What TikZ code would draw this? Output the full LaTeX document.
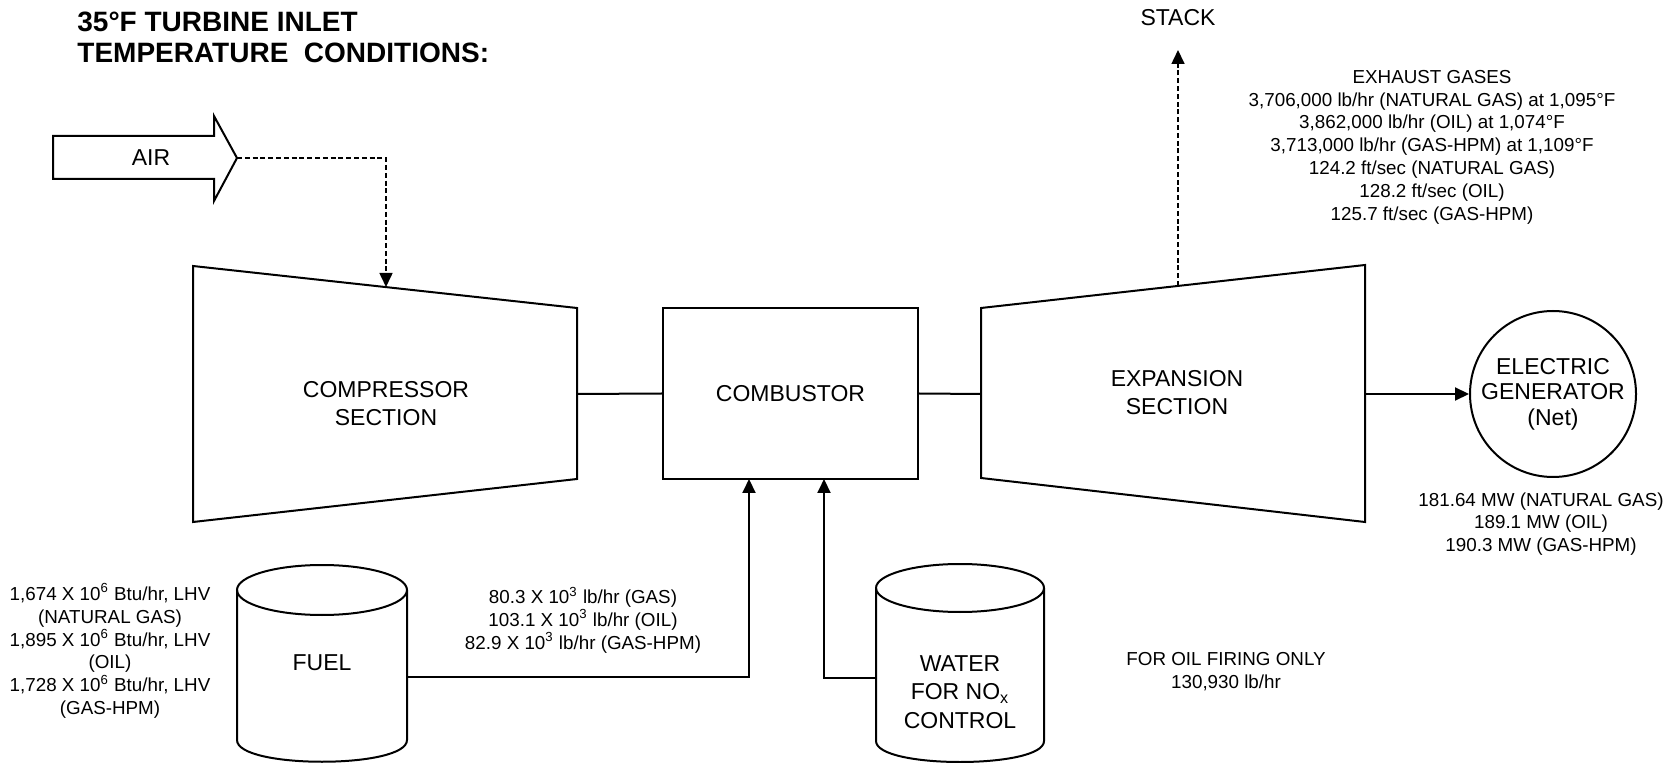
\documentclass[tikz,border=0pt]{standalone}
\usepackage{fontspec}
\setmainfont{Liberation Sans}
\usetikzlibrary{arrows.meta,positioning,calc}

\tikzset{
    part/.style={line width=1pt},
    flow/.style={line width=1pt, -{Triangle[length=7pt,width=6.5pt]}},
    dashflow/.style={flow, line width=0.8pt, dash pattern=on 2.5pt off 1.4pt},
    heading/.style={font=\fontsize{14}{15}\selectfont\bfseries, anchor=base west, inner sep=0pt},
    label/.style={font=\fontsize{11.5}{14}\selectfont, align=center},
    note/.style={font=\fontsize{9.4}{11.4}\selectfont, align=center}
}

\begin{document}
\begin{tikzpicture}[x=0.5pt,y=-0.5pt]
    \useasboundingbox (0,0) rectangle (1668,763);

    % Title
    \node[heading] (title1) at (77,32) {35°F TURBINE INLET};
    \node[heading] (title2) at (77,63) {TEMPERATURE\ \ CONDITIONS:};

    % Air inlet arrow
    \draw[part] (53,136) -- (214,136) -- (214,116) -- (237,158) -- (214,201) -- (214,179) -- (53,179) -- cycle;
    \node[label] (air) at (151,158) {AIR};
    \coordinate (airtip) at (237,158);

    % Compressor section
    \draw[part] (193,266) -- (577,308) -- (577,479) -- (193,522) -- cycle;
    \node[label] (comp) at (386,404) {COMPRESSOR\\SECTION};
    \coordinate (compin) at (386,287);
    \coordinate (compout) at (577,394);

    % Combustor
    \node[draw, part, label, minimum width=127.5pt, minimum height=85.5pt] (comb) at (790.5,393.5) {COMBUSTOR};
    \coordinate (combfuel) at (749,479);
    \coordinate (combwater) at (824,479);

    % Expansion section
    \draw[part] (981,308) -- (1365,265) -- (1365,522) -- (981,478) -- cycle;
    \node[label] (exp) at (1177,393) {EXPANSION\\SECTION};
    \coordinate (expin) at (981,394);
    \coordinate (expout) at (1365,394);
    \coordinate (exptop) at (1178,286);

    % Stack
    \node[label] (stack) at (1178,18) {STACK};
    \coordinate (stacktip) at (1178,50);

    % Electric generator
    \node[draw, part, circle, minimum size=83pt, inner sep=0pt, font=\fontsize{11.5}{12.75}\selectfont, align=center] (gen) at (1553,394) {ELECTRIC\\GENERATOR\\(Net)};

    % Fuel tank
    \draw[part] (237,590) -- (237,740) .. controls (237,769) and (407,769) .. (407,740) -- (407,590);
    \draw[part] (322,590) ellipse [x radius=42.5pt, y radius=12.5pt];
    \node[label] (fuel) at (322,663) {FUEL};
    \coordinate (fuelout) at (407,677);

    % Water tank
    \draw[part] (876,588) -- (876,741) .. controls (876,769) and (1044,769) .. (1044,741) -- (1044,588);
    \draw[part] (960,588) ellipse [x radius=42pt, y radius=12pt];
    \node[label, font=\fontsize{11.5}{14.25}\selectfont] (water) at (960,692) {WATER\\FOR NO\textsubscript{x}\\CONTROL};
    \coordinate (waterout) at (876,678);

    % Connectors
    \draw[dashflow] (airtip) -| (compin);
    \draw[part] (compout) -- (comb.west);
    \draw[part] (comb.east) -- (expin);
    \draw[dashflow] (exptop) -- (stacktip);
    \draw[flow] (expout) -- (gen.west);
    \draw[flow] (fuelout) -| (combfuel);
    \draw[flow] (waterout) -| (combwater);

    % Stream data
    \node[note] (exhaust) at (1432,147) {EXHAUST GASES\\3,706,000 lb/hr (NATURAL GAS) at 1,095°F\\3,862,000 lb/hr (OIL) at 1,074°F\\3,713,000 lb/hr (GAS-HPM) at 1,109°F\\124.2 ft/sec (NATURAL GAS)\\128.2 ft/sec (OIL)\\125.7 ft/sec (GAS-HPM)};
    \node[note] (power) at (1541,524) {181.64 MW (NATURAL GAS)\\189.1 MW (OIL)\\190.3 MW (GAS-HPM)};
    \node[note] (heat) at (110,651) {1,674 X 10\textsuperscript{6} Btu/hr, LHV\\(NATURAL GAS)\\1,895 X 10\textsuperscript{6} Btu/hr, LHV\\(OIL)\\1,728 X 10\textsuperscript{6} Btu/hr, LHV\\(GAS-HPM)};
    \node[note] (fuelrate) at (583,620) {80.3 X 10\textsuperscript{3} lb/hr (GAS)\\103.1 X 10\textsuperscript{3} lb/hr (OIL)\\82.9 X 10\textsuperscript{3} lb/hr (GAS-HPM)};
    \node[note] (oil) at (1226,672) {FOR OIL FIRING ONLY\\130,930 lb/hr};
\end{tikzpicture}
\end{document}
